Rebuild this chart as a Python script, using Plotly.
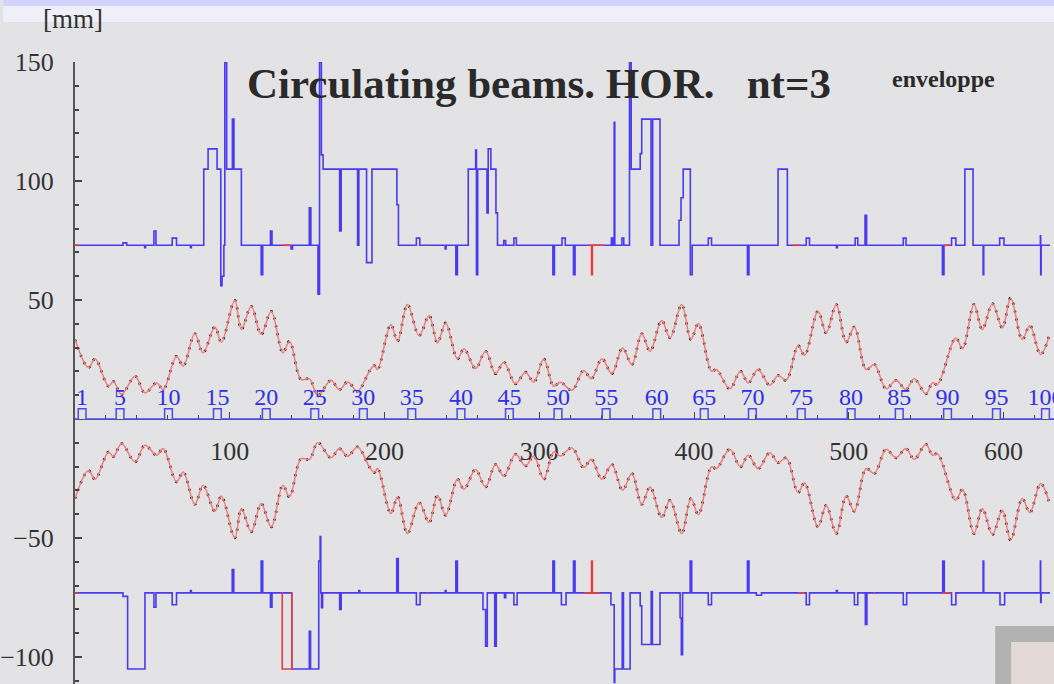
import plotly.graph_objects as go

# ---------------------------------------------------------------- figure frame
W, H = 1054, 684
M_L, M_T = 72, 62
S_MAX = 632.6
Y_MIN, Y_MAX = -111.3, 150.0

BG = "#e3e3e5"
BLUE = "#4b3af0"
RED = "#e83c3c"
SERIF = "Liberation Serif"

# ---------------------------------------------------------------- data
# beam envelope (upper half) [mm] along the ring s [m]
env_s = [0.0, 8.7, 13.0, 21.6, 24.8, 30.1, 38.8, 45.2, 52.7, 57.0,
         65.6, 69.9, 77.4, 82.8, 90.3, 94.6, 103.2, 107.5, 113.9, 120.3,
         126.8, 134.3, 138.6, 146.1, 151.5, 156.9, 165.4, 170.8, 176.2, 182.6,
         190.2, 193.4, 195.5, 204.1, 208.4, 214.8, 222.4, 228.8, 234.2, 239.5,
         247.1, 251.4, 258.8, 265.3, 271.7, 277.1, 284.6, 291.1, 296.5, 302.9,
         309.3, 313.6, 321.1, 328.7, 333.6, 340.5, 346.9, 353.8, 359.8, 366.2,
         371.6, 379.1, 384.5, 392.0, 398.0, 402.8, 411.3, 414.5, 423.1, 430.0,
         435.0, 441.4, 448.9, 454.3, 459.6, 467.2, 471.4, 480.1, 485.4, 491.9,
         498.3, 503.6, 511.2, 516.5, 524.1, 530.5, 536.9, 542.3, 549.8, 554.1,
         557.3, 569.1, 573.5, 580.9, 586.3, 592.8, 599.2, 604.6, 612.1, 617.0,
         623.9, 629.3]
env_mm = [33.4, 21.6, 25.3, 13.8, 15.8, 10.3, 18.0, 11.0, 15.2, 12.4,
          26.4, 22.2, 35.8, 27.8, 38.7, 32.3, 49.9, 37.6, 47.4, 35.5,
          45.3, 27.8, 32.7, 16.6, 16.9, 9.9, 16.3, 12.4, 15.6, 11.7,
          20.1, 22.5, 20.8, 39.7, 32.7, 48.1, 35.1, 43.5, 32.0, 40.4,
          25.3, 29.5, 21.2, 28.5, 19.1, 23.9, 14.8, 19.7, 15.5, 25.3,
          13.8, 15.5, 12.1, 20.4, 16.9, 25.3, 19.1, 29.9, 22.9, 35.8,
          28.5, 41.4, 34.1, 48.1, 33.4, 40.1, 20.1, 20.8, 12.7, 20.1,
          15.2, 20.8, 14.2, 18.3, 16.3, 30.9, 26.8, 45.3, 36.2, 48.1,
          32.3, 38.7, 20.8, 22.9, 12.7, 16.3, 12.4, 16.9, 10.6, 15.2,
          14.5, 34.1, 29.5, 48.1, 37.6, 48.5, 38.3, 50.9, 33.4, 39.3,
          27.1, 34.5]

# vacuum chamber aperture, outer side [mm] (step profile)
ap_up_s = [0, 31.0, 33.4, 45.0, 45.6, 51.0, 52.3, 62.8, 65.6, 74.6,
           75.2, 83.2, 86.0, 91.8, 94.2, 95.0, 96.2, 96.8, 98.0, 101.7,
           102.7, 107.5, 120.3, 121.3, 126.3, 127.3, 139.6, 140.6, 151.4, 152.4,
           157.0, 158.0, 159.2, 160.3, 171.0, 172.0, 182.6, 183.4, 188.4, 191.9,
           208.0, 209.0, 220.6, 222.8, 239.2, 239.8, 246.1, 247.1, 254.1, 258.9,
           259.4, 260.2, 266.2, 267.0, 268.7, 272.0, 273.0, 277.1, 278.3, 283.6,
           285.2, 308.8, 309.8, 314.7, 316.8, 322.1, 323.1, 346.6, 347.6, 348.4,
           348.8, 353.4, 354.6, 358.3, 359.4, 365.2, 366.2, 372.2, 373.3, 378.0,
           390.3, 391.6, 393.0, 397.6, 398.8, 409.2, 411.3, 434.5, 435.5, 454.3,
           460.3, 472.5, 474.6, 492.0, 492.6, 504.1, 505.8, 510.5, 511.5, 535.2,
           537.0, 560.5, 561.5, 566.4, 569.2, 575.0, 580.3, 586.8, 587.2, 597.5,
           600.3, 623.8, 624.0, 624.3, 630.0]
ap_up_mm = [73, 74, 73, 72, 73, 79, 73, 76, 73, 72,
            73, 105, 113.5, 105, 56, 60, 73, 150, 105, 126,
            105, 73, 60.6, 73, 79, 73, 71.5, 73, 88.7, 73,
            52.5, 150, 111, 105, 79, 105, 73, 105, 65.7, 105,
            90, 73, 76, 73, 71.5, 73, 60.6, 73, 105, 113,
            60.6, 105, 86.6, 113.5, 105, 86.6, 73, 75, 73, 76,
            73, 60.6, 73, 76, 73, 60.6, 73, 76, 73, 124.7,
            73, 76, 73, 150, 105, 111.5, 126, 73, 126, 73,
            83.5, 93, 105, 60.6, 73, 76, 73, 60.6, 73, 105,
            73, 76, 73, 72, 73, 76, 73, 85.6, 73, 76,
            73, 60.6, 73, 76, 73, 105, 73, 60.6, 73, 76,
            73, 77, 60.6, 73, 73]

# vacuum chamber aperture, inner side [mm]
ap_dn_s = [0, 31.0, 34.0, 45.2, 51.0, 52.3, 62.8, 65.6, 74.6, 75.2,
           101.6, 102.6, 120.3, 121.3, 126.3, 127.3, 140.1, 151.4, 152.2, 157.5,
           158.4, 158.8, 159.3, 160.0, 171.0, 172.0, 183.4, 184.0, 207.9, 208.9,
           220.6, 223.0, 239.2, 239.8, 246.1, 247.1, 263.6, 265.3, 266.4, 271.2,
           272.2, 277.5, 278.3, 283.6, 285.7, 308.8, 309.8, 314.3, 317.3, 322.1,
           323.1, 346.3, 348.4, 348.8, 353.6, 354.4, 358.7, 365.2, 366.2, 372.3,
           373.1, 378.0, 391.0, 391.8, 392.6, 397.5, 398.5, 409.2, 411.3, 434.5,
           435.5, 440.3, 443.6, 472.5, 474.6, 492.0, 492.6, 503.6, 505.8, 510.7,
           511.7, 535.2, 537.4, 560.7, 561.7, 566.4, 569.2, 586.8, 587.2, 597.7,
           600.7, 623.8, 624.0, 624.3, 630.0]
ap_dn_mm = [-73, -74.5, -105, -73, -79, -73, -78, -73, -72, -73,
            -63.2, -73, -59.7, -73, -79, -73, -105, -89.2, -105, -59.7,
            -49.4, -73, -79.2, -73, -80, -73, -72, -73, -58.6, -73,
            -78, -73, -72, -73, -59.7, -73, -80, -95.4, -73, -95.4,
            -73, -75, -73, -78, -73, -59.7, -73, -78, -73, -59.7,
            -73, -78, -110.6, -105, -73, -105, -73, -78.5, -94.7, -72.5,
            -94.7, -73, -83.5, -99, -73, -59.7, -73, -78, -73, -59.7,
            -73, -74, -73, -78, -73, -72, -73, -78, -73, -86.3,
            -73, -78, -73, -59.7, -73, -78, -73, -59.7, -73, -78,
            -73, -59.7, -77, -73, -73]

# second aperture set (shown in red where it differs)
red_up_s = [0, 2.2, None, 134.0, 139.6, None, 226.6, 227.7, None,
            331.7, 333.8, 334.3, 341.6, None, 464.0, 469.0, None, 561.5, 565.6]
red_up_mm = [73, 73, None, 73, 73, None, 73, 73, None,
             73, 60.6, 73, 73, None, 73, 73, None, 73, 73]
red_dn_s = [0, 2.2, None, 133.6, 133.9, 140.1, 140.3, None, 227.2, 228.2, None,
            328.7, 333.8, 334.3, 339.4, None, 467.2, 471.4, None, 516.0, 517.0,
            None, 560.6, 566.0]
red_dn_mm = [-73, -73, None, -73, -105, -73, -73, None, -73, -73, None,
             -73, -59.7, -73, -73, None, -73, -73, None, -73, -73,
             None, -73, -73]

# lattice cell markers
cell_no = [1, 5, 10, 15, 20, 25, 30, 35, 40, 45, 50,
           55, 60, 65, 70, 75, 80, 85, 90, 95, 100]
cell_s = [4.6, 29.1, 60.4, 92.0, 123.6, 154.9, 186.3, 217.6, 249.4, 280.7, 312.1,
          343.2, 375.9, 406.6, 437.7, 469.3, 501.5, 532.6, 563.8, 595.4, 627.1]

x_ticks = [100, 200, 300, 400, 500, 600]
x_minor = [20, 40, 60, 80, 120, 140, 160, 180, 220, 240, 260, 280, 320, 340,
           360, 380, 420, 440, 460, 480, 520, 540, 560, 580, 620]
y_ticks = [-100, -50, 50, 100, 150]
y_ticktext = ["\u2212100", "\u221250", "50", "100", "150"]
y_minor = [-110, -90, -80, -70, -60, -40, -30, -20, -10, 10, 20, 30, 40,
           60, 70, 80, 90, 110, 120, 130, 140]

# ---------------------------------------------------------------- helpers
def px_x(p):
    return (p - M_L) / (W - M_L)


def px_y(p):
    return (H - p) / (H - M_T)


BOX_HALF, BOX_H = 2.5, 4.3
mk_x, mk_y = [0.0], [0.0]
for c in cell_s:
    mk_x += [c - BOX_HALF, c - BOX_HALF, c + BOX_HALF, c + BOX_HALF]
    mk_y += [0.0, BOX_H, BOX_H, 0.0]
mk_x.append(S_MAX)
mk_y.append(0.0)

# ---------------------------------------------------------------- traces
fig = go.Figure()

for sign in (1, -1):
    yy = [sign * v for v in env_mm]
    fig.add_trace(go.Scatter(x=env_s, y=yy, mode="lines",
                             line=dict(color="#1e1e1e", width=2.6, dash="2px,6px",
                                       shape="spline", smoothing=1.0),
                             hoverinfo="skip"))
    fig.add_trace(go.Scatter(x=env_s, y=yy, mode="lines",
                             line=dict(color="#f27a7a", width=1.5,
                                       shape="spline", smoothing=1.0),
                             hoverinfo="skip"))

fig.add_trace(go.Scatter(x=mk_x, y=mk_y, mode="lines",
                         line=dict(color="#4a4af0", width=1.5), hoverinfo="skip"))
fig.add_trace(go.Scatter(x=cell_s, y=[8.6] * len(cell_s), mode="text",
                         text=[str(n) for n in cell_no],
                         textfont=dict(family=SERIF, size=24, color="#3030e8"),
                         hoverinfo="skip"))

for xs, ys in ((ap_up_s, ap_up_mm), (ap_dn_s, ap_dn_mm)):
    fig.add_trace(go.Scatter(x=xs, y=ys, mode="lines",
                             line=dict(color=BLUE, width=1.6, shape="hv"),
                             hoverinfo="skip"))
for xs, ys in ((red_up_s, red_up_mm), (red_dn_s, red_dn_mm)):
    fig.add_trace(go.Scatter(x=xs, y=ys, mode="lines", connectgaps=False,
                             line=dict(color=RED, width=1.6, shape="hv"),
                             hoverinfo="skip"))

# ---------------------------------------------------------------- layout
tick_font = dict(family=SERIF, size=26, color="#333333")
fig.update_layout(
    width=W, height=H,
    margin=dict(l=M_L, r=0, t=M_T, b=0, pad=0),
    paper_bgcolor=BG, plot_bgcolor=BG,
    showlegend=False,
    xaxis=dict(range=[0, S_MAX], anchor="free",
               position=(0 - Y_MIN) / (Y_MAX - Y_MIN),
               tickmode="array", tickvals=x_ticks,
               ticks="inside", ticklen=7, tickwidth=1, tickcolor="#444444",
               minor=dict(tickvals=x_minor, ticks="inside", ticklen=4,
                          tickcolor="#444444"),
               showline=True, linecolor="#555555", linewidth=1,
               showgrid=False, zeroline=False, layer="below traces",
               tickfont=tick_font, ticklabelstandoff=9),
    yaxis=dict(range=[Y_MIN, Y_MAX],
               tickmode="array", tickvals=y_ticks, ticktext=y_ticktext,
               ticks="inside", ticklen=7, tickwidth=1.5, tickcolor="#444444",
               minor=dict(tickvals=y_minor, ticks="inside", ticklen=4,
                          tickcolor="#444444"),
               showline=True, linecolor="#555555", linewidth=2,
               showgrid=False, zeroline=False,
               tickfont=tick_font, ticklabelstandoff=14),
)

fig.add_annotation(xref="paper", yref="paper", x=px_x(243), y=px_y(83),
                   xanchor="left", yanchor="middle", showarrow=False,
                   text="<b>Circulating beams. HOR.\u00a0\u00a0\u00a0nt=3</b>",
                   font=dict(family=SERIF, size=43, color="#2a2a2a"))
fig.add_annotation(xref="paper", yref="paper", x=px_x(889), y=px_y(78.5),
                   xanchor="left", yanchor="middle", showarrow=False,
                   text="<b>enveloppe</b>",
                   font=dict(family=SERIF, size=24, color="#2a2a2a"))
fig.add_annotation(xref="paper", yref="paper", x=px_x(38), y=px_y(19),
                   xanchor="left", yanchor="middle", showarrow=False,
                   text="[mm]",
                   font=dict(family=SERIF, size=27, color="#333333"))

# window bands at the top and the corner widget
fig.add_shape(type="rect", xref="paper", yref="paper", layer="below",
              x0=px_x(0), x1=px_x(W), y0=px_y(6), y1=px_y(0),
              fillcolor="#d3d3fb", line=dict(width=0))
fig.add_shape(type="rect", xref="paper", yref="paper", layer="below",
              x0=px_x(0), x1=px_x(W), y0=px_y(22), y1=px_y(6),
              fillcolor="#efeff9", line=dict(width=0))
fig.add_shape(type="rect", xref="paper", yref="paper", layer="above",
              x0=px_x(995), x1=px_x(W), y0=px_y(H), y1=px_y(626),
              fillcolor="#b2b2b2", line=dict(width=0))
fig.add_shape(type="rect", xref="paper", yref="paper", layer="above",
              x0=px_x(1011), x1=px_x(W), y0=px_y(H), y1=px_y(642),
              fillcolor="#e2d9d5", line=dict(width=0))

fig.write_html("out.html")
